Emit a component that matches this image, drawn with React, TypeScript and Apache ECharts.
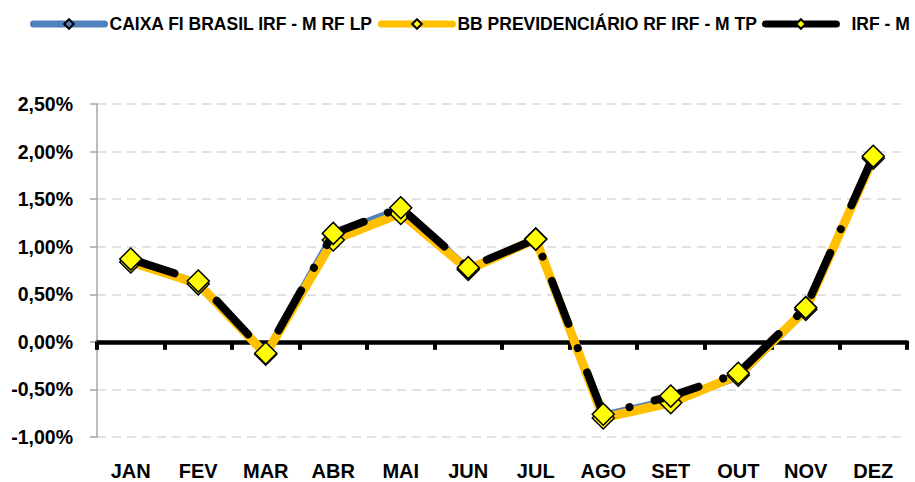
import React, { useEffect, useRef } from "react";
import * as echarts from "echarts";

const months = ["JAN", "FEV", "MAR", "ABR", "MAI", "JUN", "JUL", "AGO", "SET", "OUT", "NOV", "DEZ"];
const caixa = [0.85, 0.62, -0.12, 1.13, 1.40, 0.77, 1.07, -0.77, -0.61, -0.37, 0.33, 1.94];
const bb = [0.84, 0.61, -0.13, 1.07, 1.35, 0.76, 1.08, -0.80, -0.64, -0.35, 0.34, 1.93];
const irfm = [0.87, 0.64, -0.12, 1.14, 1.41, 0.78, 1.08, -0.76, -0.57, -0.33, 0.36, 1.95];
const seriesNames = ["CAIXA FI BRASIL IRF - M RF LP", "BB PREVIDENCIÁRIO RF IRF - M TP", "IRF - M"];

const FONT = "'Liberation Sans', Arial, sans-serif";

export default function App() {
  const ref = useRef<HTMLDivElement>(null);
  useEffect(() => {
    const chart = echarts.init(ref.current!, null, { renderer: "svg" });
    chart.setOption({
      animation: false,
      backgroundColor: "#fff",
      legend: {
        top: 15,
        left: 30,
        width: 1200,
        padding: 0,
        itemWidth: 71,
        itemHeight: 12,
        itemGap: 5,
        lineStyle: { width: 7, type: "solid", cap: "round" },
        textStyle: {
          fontFamily: FONT,
          fontWeight: "bold",
          fontSize: 17.5,
          color: "#000",
          rich: { p: { fontFamily: FONT, fontWeight: "bold", fontSize: 17.5, color: "#000", padding: [0, 0, 0, 10] } },
        },
        formatter: (n: string) => (n === "IRF - M" ? "{p|IRF - M}" : n),
        data: seriesNames,
      },
      grid: { left: 97, right: 8, top: 104, bottom: 45, containLabel: false, outerBoundsMode: "none" },
      xAxis: [
        {
          type: "category",
          data: months,
          position: "bottom",
          axisLine: { show: false, onZero: false },
          axisTick: { show: false },
          splitLine: { show: false },
          axisLabel: { fontFamily: FONT, fontWeight: "bold", fontSize: 20, color: "#000", margin: 24, interval: 0 },
        },
        {
          type: "category",
          data: months,
          position: "bottom",
          axisLine: { show: true, onZero: true, lineStyle: { color: "#000", width: 4.5 } },
          axisTick: { show: true, length: 8, interval: 0, lineStyle: { color: "#000", width: 4 } },
          axisLabel: { show: false },
          splitLine: { show: false },
        },
      ],
      yAxis: {
        type: "value",
        min: -1,
        max: 2.5,
        interval: 0.5,
        axisLine: { show: true, lineStyle: { color: "#A6A6A6", width: 1.5 } },
        axisTick: { show: true, length: 7, lineStyle: { color: "#A6A6A6", width: 1.5 } },
        splitLine: { show: true, lineStyle: { color: "#D9D9D9", width: 1.5, type: [9, 6] } },
        axisLabel: {
          fontFamily: FONT,
          fontWeight: "bold",
          fontSize: 19.5,
          color: "#000",
          margin: 24,
          formatter: (v: number) => v.toFixed(2).replace(".", ",") + "%",
        },
      },
      series: [
        {
          name: seriesNames[0],
          type: "line",
          data: caixa,
          xAxisIndex: 0,
          symbol: "diamond",
          symbolSize: 10,
          lineStyle: { color: "#4F81BD", width: 7, cap: "round", join: "round" },
          itemStyle: { color: "#4F81BD", borderColor: "#000", borderWidth: 1.5 },
          z: 2,
        },
        {
          name: seriesNames[1],
          type: "line",
          data: bb,
          xAxisIndex: 0,
          symbol: "diamond",
          symbolSize: 22,
          lineStyle: { color: "#FFC000", width: 9, cap: "round", join: "round" },
          itemStyle: { color: "#FFFF00", borderColor: "#000", borderWidth: 1.5 },
          z: 3,
        },
        {
          name: seriesNames[2],
          type: "line",
          data: irfm,
          xAxisIndex: 0,
          symbol: "diamond",
          symbolSize: 22,
          lineStyle: { color: "#000", width: 8, type: [46, 26, 0.01, 26], cap: "round", join: "round" },
          itemStyle: { color: "#FFFF00", borderColor: "#000", borderWidth: 1.5 },
          z: 4,
        },
      ],
    });
    return () => chart.dispose();
  }, []);
  return <div ref={ref} style={{ position: "fixed", left: 0, top: 0, width: 915, height: 482 }} />;
}
